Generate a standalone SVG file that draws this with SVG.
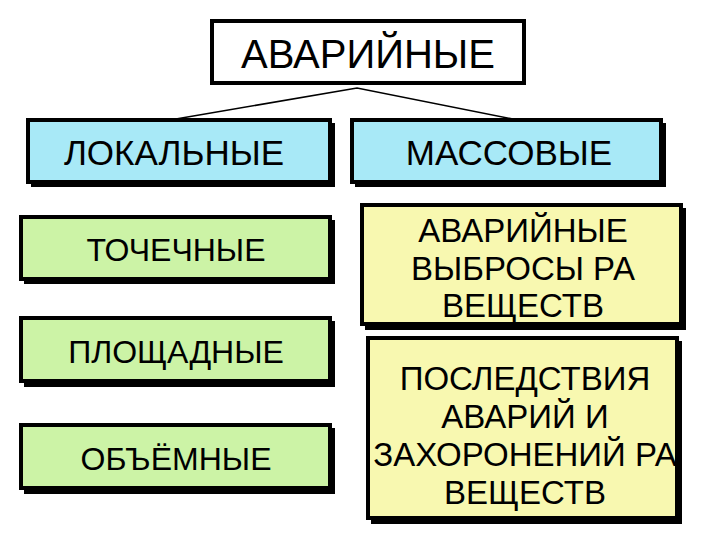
<svg xmlns="http://www.w3.org/2000/svg" width="720" height="540" viewBox="0 0 720 540">
<style>
text{font-family:"Liberation Sans",Arial,sans-serif;fill:#000;text-anchor:middle}
.b{stroke:#000;stroke-width:4}
.sh{fill:#000}
.blue{fill:#a8e9f7}.green{fill:#ccf3a6}.yellow{fill:#f8f8b0}
</style>
<rect width="720" height="540" fill="#fff"/>
<g id="connectors" stroke="#000" stroke-width="1.5" fill="none">
<polyline points="170,120 357,88 518,120"/>
</g>
<g id="n-avariynye"><rect class="b" x="212" y="21" width="312" height="62" fill="#fff"/><text x="368" y="68" font-size="40">АВАРИЙНЫЕ</text></g>
<g id="n-lokalnye"><rect class="sh" x="31" y="123" width="304" height="64"/><rect class="b blue" x="28" y="120" width="302" height="62"/><text x="174" y="165" font-size="35">ЛОКАЛЬНЫЕ</text></g>
<g id="n-massovye"><rect class="sh" x="355" y="123" width="311" height="64"/><rect class="b blue" x="352" y="120" width="309" height="62"/><text x="509" y="165" font-size="35">МАССОВЫЕ</text></g>
<g id="n-tochechnye"><rect class="sh" x="24" y="220" width="311" height="64"/><rect class="b green" x="21" y="217" width="309" height="62"/><text x="176" y="261" font-size="32">ТОЧЕЧНЫЕ</text></g>
<g id="n-ploshchadnye"><rect class="sh" x="24" y="321" width="311" height="66"/><rect class="b green" x="21" y="318" width="309" height="63"/><text x="176" y="363" font-size="32">ПЛОЩАДНЫЕ</text></g>
<g id="n-obyomnye"><rect class="sh" x="24" y="428" width="311" height="66"/><rect class="b green" x="21" y="425" width="309" height="63"/><text x="176" y="470" font-size="32">ОБЪЁМНЫЕ</text></g>
<g id="n-vybrosy"><rect class="sh" x="365" y="208" width="321" height="122"/><rect class="b yellow" x="362" y="205" width="319" height="119"/><text x="523" y="242" font-size="33">АВАРИЙНЫЕ</text><text x="523" y="280" font-size="33">ВЫБРОСЫ РА</text><text x="523" y="317" font-size="33">ВЕЩЕСТВ</text></g>
<g id="n-posledstviya"><rect class="sh" x="371" y="341" width="311" height="183"/><rect class="b yellow" x="368" y="338" width="309" height="180"/><text x="525" y="390" font-size="33">ПОСЛЕДСТВИЯ</text><text x="525" y="428" font-size="33">АВАРИЙ И</text><text x="525" y="466" font-size="33">ЗАХОРОНЕНИЙ РА</text><text x="525" y="504" font-size="33">ВЕЩЕСТВ</text></g>
</svg>
